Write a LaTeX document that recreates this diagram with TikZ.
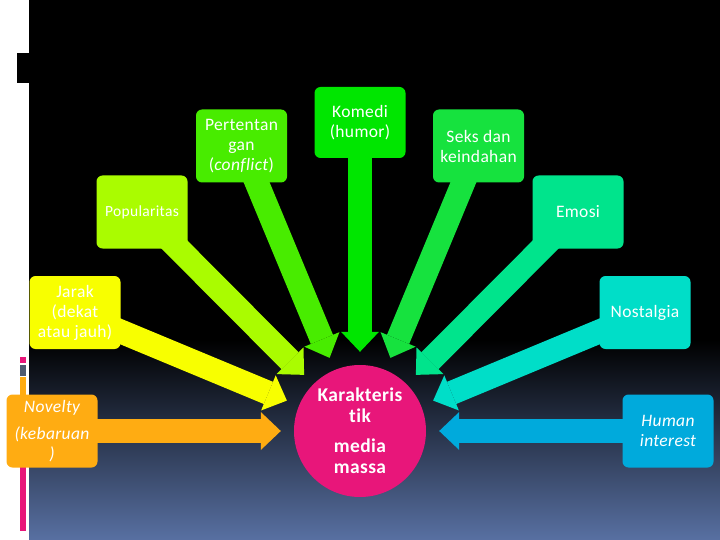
\documentclass[tikz,border=0pt]{standalone}
\usepackage{fontspec}
\setmainfont{Carlito}[LetterSpace=2,Ligatures=NoCommon]
\usetikzlibrary{arrows.meta,positioning}
\definecolor{hubpink}{RGB}{232,22,122}
\definecolor{pertgreen}{RGB}{72,236,0}
\definecolor{komgreen}{RGB}{0,230,0}
\definecolor{seksgreen}{RGB}{22,226,62}
\definecolor{popgreen}{RGB}{170,252,0}
\definecolor{emogreen}{RGB}{0,228,140}
\definecolor{jaryellow}{RGB}{248,255,0}
\definecolor{nosteal}{RGB}{0,222,200}
\definecolor{novorange}{RGB}{255,172,18}
\definecolor{humblue}{RGB}{0,170,220}
\definecolor{slate}{RGB}{88,112,162}
\definecolor{bargray}{RGB}{78,90,112}
\pgfdeclarelayer{back}
\pgfdeclarelayer{spokes}
\pgfsetlayers{back,spokes,main}

\begin{document}
\begin{tikzpicture}[
  x=1pt,y=-1pt,
  every node/.style={text=white,font=\fontsize{17.5}{20}\selectfont},
  topicbox/.style={rounded corners=6pt,minimum width=91pt,minimum height=73pt,
                   align=center,inner sep=1pt},
  spoke/.style={line width=24pt,-{Triangle[length=20pt,width=38pt,line width=0pt]},
                shorten >=13pt},
  hub/.style={circle,fill=hubpink,minimum size=132pt,inner sep=0pt,align=center,
              font=\fontsize{19.5}{21}\selectfont\bfseries},
]
  \useasboundingbox (0,0) rectangle (720,540);
  % backdrop
  \begin{pgfonlayer}{back}
    \fill[white] (0,0) rectangle (29,540);
    \fill[black] (29,0) rectangle (720,341);
    \shade[top color=black,bottom color=slate] (29,340) rectangle (720,540);
    \fill[black] (17,53) rectangle (29,83);
    % side bar
    \fill[hubpink] (20,357) rectangle (26,363);
    \fill[bargray] (20,365) rectangle (26,376);
    \fill[novorange] (20,377) rectangle (26,400);
    \fill[hubpink] (20,466) rectangle (26,531);
  \end{pgfonlayer}

  % centre
  \node[hub] (hub) at (360,431) {Karakteris\\tik\\[9pt]media\\massa};

  % topics, upper arc
  \node[topicbox,fill=komgreen,minimum height=71pt] (kom) at (360,122.5) {Komedi\\(humor)};
  \node[topicbox,fill=pertgreen] (pert) at (241.5,146) {Pertentan\\gan\\(\textit{conflict})};
  \node[topicbox,fill=seksgreen] (seks) at (478.5,146) {Seks dan\\keindahan};
  \node[topicbox,fill=popgreen,font=\fontsize{15.5}{18}\selectfont] (pop) at (142,212) {Popularitas};
  \node[topicbox,fill=emogreen] (emo) at (578,212) {Emosi};
  \node[topicbox,fill=jaryellow] (jar) at (75,312.5) {Jarak\\(dekat\\atau jauh)};
  \node[topicbox,fill=nosteal] (nos) at (645,312.5) {Nostalgia};

  % topics, sides
  \node[topicbox,fill=novorange,font=\fontsize{17.5}{20}\selectfont\itshape] (nov) at (52,431)
    {Novelty\\[7pt](kebaruan\\)};
  \node[topicbox,fill=humblue,font=\fontsize{17.5}{20}\selectfont\itshape] (hum) at (668,431)
    {Human\\interest};

  % spokes into the centre
  \begin{pgfonlayer}{spokes}
    \draw[spoke,jaryellow] (jar.center) -- (hub);
    \draw[spoke,nosteal] (nos.center) -- (hub);
    \draw[spoke,popgreen] (pop.center) -- (hub);
    \draw[spoke,emogreen] (emo.center) -- (hub);
    \draw[spoke,pertgreen] (pert.center) -- (hub);
    \draw[spoke,seksgreen] (seks.center) -- (hub);
    \draw[spoke,komgreen] (kom.center) -- (hub);
    \draw[spoke,novorange] (nov.center) -- (hub);
    \draw[spoke,humblue] (hum.center) -- (hub);
  \end{pgfonlayer}
\end{tikzpicture}
\end{document}
